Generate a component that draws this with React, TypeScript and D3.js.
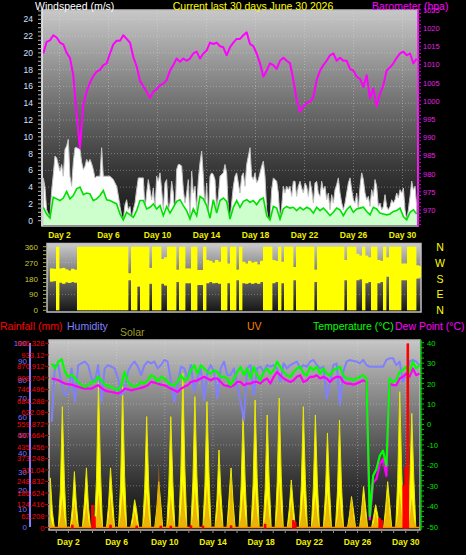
import * as d3 from 'd3'

// ---------- tick labels ----------
const dayTicks = [2, 6, 10, 14, 18, 22, 26, 30]
const windTicks = [0, 2, 4, 6, 8, 10, 12, 14, 16, 18, 20, 22, 24]
const baroTicks = [970, 975, 980, 985, 990, 995, 1000, 1005, 1010, 1015, 1020, 1025]
const dirTicks = [0, 90, 180, 270, 360]
const compass = ['N', 'E', 'S', 'W', 'N']
const amountTicks = ['0', '62.208', '124.416', '186.624', '248.832', '311.04', '373.248', '435.456', '497.664', '559.872', '622.08', '684.288', '746.496', '808.704', '870.912', '933.12', '995.328']
const humTicks = [0, 10, 20, 30, 40, 50, 60, 70, 80, 90, 100]
const tempTicks = [-50, -40, -30, -20, -10, 0, 10, 20, 30, 40]

// ---------- top panel: wind + barometer ----------
const barometer = [
  1013, 1016.2, 1016.6, 1018, 1017.4, 1016, 1015.5, 1013.2, 1011.8, 1007,
  996, 987, 999, 1002.5, 1005, 1006.8, 1008, 1008.5, 1009.8, 1010.3,
  1013, 1015.5, 1016.5, 1016.5, 1018, 1017, 1016, 1012, 1009.5, 1005.5,
  1004, 1002.5, 1000.8, 1002.5, 1003.2, 1004.3, 1004.7, 1005.7, 1008.3, 1009.8,
  1011.6, 1010.7, 1011.6, 1011, 1011.6, 1013, 1013.5, 1011.6, 1013, 1013.8,
  1016, 1015.6, 1016, 1015, 1014.7, 1012.5, 1014.7, 1016, 1017, 1017,
  1018, 1018.8, 1015.6, 1015, 1013, 1010.3, 1006.6, 1008.3, 1010.3, 1009.8,
  1008.8, 1011, 1011.8, 1011, 1010.3, 1005.7, 1000.3, 997, 998.5, 999.4,
  999.8, 1001, 1005.7, 1008.3, 1009.8, 1011, 1012.5, 1013, 1011, 1011.8,
  1011, 1011, 1008.8, 1008.3, 1006.6, 1006, 1003.8, 1007, 1000.7, 1003.4,
  998.5, 1002, 1004.3, 1008.3, 1009.2, 1010.3, 1011.8, 1013, 1013.5, 1012.5,
  1013, 1010.3, 1011.6,
]

const windGust = [
  5.1, 4.0, 1.3, 0.8, 0.5, 3.5, 5.5, 7.7, 7.5, 6.7, 5.9, 6.7, 5.3, 8.5, 8.9, 9.7, 5.3, 4.1, 7.0, 8.7,
  8.7, 8.6, 8.5, 7.0, 6.1, 6.5, 7.3, 6.9, 7.3, 6.8, 6.1, 5.1, 5.3, 5.3, 5.3, 8.7, 5.3, 5.3, 5.3, 5.3,
  5.3, 5.1, 4.9, 4.5, 4.1, 3.0, 1.7, 0.6, 0, 1.9, 2.5, 1.3, 1.7, 0.1, 1.3, 2.1, 3.7, 5.1, 5.1, 5.1,
  5.1, 1.3, 3.3, 4.9, 3.7, 2.5, 3.9, 1.3, 5.3, 4.7, 5.7, 3.7, 1.3, 4.5, 4.9, 1.3, 2.1, 4.7, 3.3, 0.1,
  6.1, 6.7, 6.7, 6.5, 3.7, 2.1, 3.3, 4.9, 0.1, 5.9, 3.3, 4.1, 1.3, 4.9, 6.9, 8.3, 5.3, 1.3, 4.5, 0.1,
  5.3, 5.7, 5.5, 4.9, 1.3, 2.9, 5.3, 5.5, 5.7, 6.7, 5.7, 1.3, 0.1, 2.1, 4.1, 5.3, 5.7, 4.5, 3.3, 5.3,
  5.7, 4.1, 6.7, 7.7, 8.7, 5.3, 4.9, 5.7, 4.5, 4.9, 5.7, 6.5, 7.1, 5.3, 1.3, 0.1, 0.1, 3.7, 5.1, 4.9,
  4.7, 3.3, 0.1, 1.7, 4.1, 3.3, 4.1, 3.7, 4.1, 2.9, 4.7, 4.7, 2.9, 4.1, 4.7, 3.9, 3.3, 4.5, 4.1, 2.9,
  4.7, 3.7, 2.1, 4.5, 4.7, 3.3, 2.9, 4.7, 3.7, 4.1, 2.5, 3.3, 1.3, 3.1, 2.1, 3.7, 4.3, 5.1, 3.3, 2.1,
  1.3, 2.1, 3.3, 4.5, 5.1, 3.7, 2.5, 2.1, 3.3, 1.3, 4.1, 5.7, 4.9, 3.3, 2.5, 2.9, 1.7, 3.7, 2.9, 4.9,
  4.1, 1.7, 2.1, 1.3, 1.7, 3.1, 1.7, 1.3, 1.7, 2.5, 2.1, 2.5, 3.3, 2.7, 3.7, 3.3, 3.9, 1.3, 0.1, 1.3,
  2.9, 4.7, 3.7, 4.1, 1.7,
]

const windAvg = [
  1.6, 0.8, 0.3, 2.8, 2.6, 2.4, 2.7, 3.5, 2.6, 3.0, 3.8, 4.0, 3.1, 3.3, 3.2, 2.4, 2.6, 3.0, 3.6, 2.5,
  2.4, 2.2, 2.0, 0.8, 0.1, 1.0, 0.7, 0.4, 1.2, 2.4, 2.4, 1.4, 1.6, 2.0, 1.4, 1.8, 0.6, 1.7, 0.9, 1.6,
  2.3, 2.5, 1.8, 1.2, 0.2, 1.4, 0.6, 2.9, 2.6, 1.8, 0.3, 2.5, 0.9, 2.4, 2.7, 2.3, 0.2, 1.6, 2.4, 1.6,
  2.3, 2.5, 2.2, 2.4, 1.9, 2.5, 2.7, 0.6, 0.1, 1.7, 1.5, 0.2, 1.4, 1.7, 1.5, 1.6, 1.2, 1.6, 1.3, 1.6,
  1.4, 0.9, 1.6, 1.2, 1.5, 1.1, 0.6, 1.0, 1.5, 1.3, 0.6, 1.3, 1.7, 1.0, 1.4, 1.5, 1.6, 1.1, 0.7, 1.6,
  1.4, 0.9, 0.8, 0.7, 0.8, 1.1, 1.2, 1.5, 0.5, 0.1, 1.0, 1.3, 0.8,
]

// ---------- middle panel: wind direction (range per 6h slot) ----------
const dirLow = [
  162, 165, 0, 156, 150, 158, 155, 160, 156, 0,
  0, 0, 0, 0, 0, 0, 0, 0, 0, 0,
  0, 0, 0, 0, 0, 0, 170, 0, 0, 134,
  0, 0, 0, 150, 0, 0, 0, 150, 140, 0,
  0, 0, 160, 0, 0, 153, 153, 0, 0, 143,
  143, 0, 153, 160, 153, 155, 150, 0, 0, 153,
  0, 0, 170, 0, 153, 150, 155, 150, 155, 150,
  160, 0, 0, 0, 153, 160, 0, 153, 0, 0,
  0, 170, 0, 0, 0, 0, 0, 0, 160, 0,
  0, 0, 0, 0, 0, 0, 0, 0, 170, 0,
  0, 0, 170, 175, 0, 153, 160, 0, 0, 153,
  160, 0, 190, 0, 0, 0, 0, 170, 170, 0,
  0, 0, 180, 185,
]
const dirHigh = [
  237, 235, 360, 237, 240, 232, 225, 235, 230, 360,
  360, 360, 360, 360, 360, 360, 360, 360, 360, 360,
  360, 360, 360, 360, 360, 360, 210, 360, 360, 360,
  360, 360, 360, 240, 360, 360, 360, 290, 300, 360,
  360, 360, 230, 360, 360, 237, 237, 360, 360, 228,
  228, 360, 285, 280, 270, 285, 275, 360, 360, 265,
  360, 360, 230, 360, 275, 265, 280, 270, 275, 260,
  280, 360, 360, 360, 285, 280, 360, 275, 360, 360,
  360, 245, 360, 360, 360, 360, 360, 360, 230, 360,
  360, 360, 360, 360, 360, 360, 360, 360, 285, 360,
  360, 360, 320, 310, 360, 310, 300, 360, 360, 285,
  280, 360, 300, 360, 360, 360, 360, 265, 265, 360,
  360, 360, 255, 250,
]

// ---------- bottom panel ----------
const humidity = [
  57.2, 88.0, 88.0, 77.2, 71.7, 73.6, 86.2, 68.1, 88.0, 88.9, 89.9, 88.0, 80.8, 79.0, 88.0, 68.1, 86.2, 88.0,
  87.1, 86.2, 80.8, 71.7, 73.6, 84.4, 88.0, 89.9, 87.1, 82.6, 88.0, 89.9, 88.9, 89.9, 86.2, 88.0, 90.8, 89.9,
  79.0, 68.1, 77.2, 87.1, 86.2, 80.8, 88.0, 73.6, 80.8, 86.2, 69.0, 84.4, 88.0, 84.4, 69.9, 86.2, 89.9, 82.6,
  82.6, 86.2, 77.2, 68.1, 58.0, 86.2, 88.0, 71.7, 86.2, 87.1, 84.4, 88.0, 87.1, 88.0, 86.2, 79.0, 88.9, 86.2,
  88.0, 88.9, 89.9, 86.2, 88.0, 87.1, 89.9, 90.8, 88.0, 86.2, 87.1, 69.9, 79.0, 88.0, 88.9, 66.3, 84.4, 89.9,
  90.8, 90.2, 89.9, 88.9, 90.8, 88.0, 87.1, 87.1, 87.1, 87.1, 87.1, 90.8, 91.7, 91.7, 88.0, 89.9, 79.0, 82.6,
  89.9, 90.8, 89.9, 88.0,
]
const temperature = [
  29.8, 27.4, 30.7, 32.0, 25.7, 23.3, 24.4, 22.8, 20.8, 19.2, 18.4, 19.2, 20.8, 20.8, 23.3, 21.6, 19.5, 18.9,
  18.4, 17.5, 16.7, 19.2, 25.7, 20.8, 19.2, 18.4, 19.2, 20.8, 20.0, 21.6, 24.1, 23.3, 20.8, 23.3, 22.5, 20.8,
  19.5, 19.2, 20.8, 24.1, 21.6, 22.5, 26.6, 29.0, 24.9, 29.0, 27.4, 25.7, 24.9, 26.6, 25.7, 23.3, 23.3, 22.5,
  19.2, 22.5, 25.7, 28.2, 24.1, 27.4, 22.5, 28.2, 24.1, 21.6, 25.7, 27.4, 24.9, 26.6, 30.7, 28.2, 25.7, 24.1,
  23.3, 25.7, 27.4, 28.2, 24.9, 24.1, 28.2, 26.6, 28.2, 24.9, 27.4, 24.9, 24.1, 26.6, 27.4, 28.2, 24.1, 22.5,
  22.5, 21.6, 22.5, 23.3, 24.1, 22.5, -44.8, -25.1, -21.8, -15.3, -12.8, -20.2, 22.5, 20.8, 21.6, 25.7, 26.6, 28.2,
  25.7, 30.7, 27.4, 29.0,
]
const dewPoint = [
  22.5, 22.1, 21.6, 20.8, 20.0, 19.7, 19.5, 18.9, 18.4, 17.9, 17.5, 17.5, 17.5, 18.4, 19.2, 17.9, 16.7, 16.2,
  15.9, 15.6, 15.1, 15.9, 17.5, 17.2, 16.7, 17.1, 17.5, 17.9, 18.4, 19.2, 20.8, 20.5, 20.0, 19.5, 19.2, 18.4,
  17.5, 16.7, 15.9, 17.5, 18.4, 19.2, 20.8, 21.2, 21.6, 22.5, 23.3, 22.5, 21.6, 22.5, 22.5, 20.8, 19.2, 18.9,
  18.4, 19.2, 20.8, 20.8, 19.2, 20.0, 20.0, 20.8, 20.8, 20.0, 21.6, 22.5, 20.0, 23.3, 25.7, 24.1, 22.5, 21.6,
  20.8, 21.6, 23.3, 24.1, 20.8, 21.6, 23.3, 23.3, 24.1, 22.5, 23.3, 22.5, 20.8, 22.5, 23.3, 23.3, 20.8, 20.0,
  20.0, 19.5, 20.0, 20.8, 21.6, 20.8, -46.4, -28.4, -26.7, -19.4, -16.9, -25.1, 20.0, 19.2, 19.2, 22.5, 23.3, 24.9,
  23.3, 27.4, 24.1, 24.9,
]

// solar: afternoon of day 0, then per day [morning, noon, afternoon]
const solarFirst = [268, 90, 0]
const solarDays = [
  [200, 653, 260], [110, 302, 120], [140, 322, 110], [260, 788, 300], [120, 322, 150],
  [240, 761, 280], [60, 150, 90], [210, 599, 230], [100, 248, 130], [220, 599, 250],
  [300, 833, 320], [250, 707, 280], [230, 680, 300], [150, 419, 180], [160, 322, 140],
  [220, 619, 260], [240, 689, 270], [210, 608, 250], [250, 700, 280], [100, 257, 120],
  [230, 653, 260], [220, 608, 240], [180, 511, 220], [200, 581, 230], [70, 167, 90],
  [90, 221, 110], [60, 123, 70], [110, 248, 130], [260, 734, 300], [230, 617, 270],
]
const uvFirst = [1.0, 0.3, 0]
const uvDays = [
  [0.8, 2.6, 0.9], [0.6, 2.3, 0.7], [0.8, 2.3, 0.6], [1.0, 3.1, 1.1], [0.8, 2.8, 0.9],
  [1.0, 3.1, 1.2], [0.4, 1.4, 0.5], [1.0, 3.1, 1.1], [1.5, 5.7, 1.8], [0.9, 2.8, 1.0],
  [1.3, 4.0, 1.4], [1.1, 3.4, 1.2], [1.2, 3.7, 1.3], [1.0, 3.1, 1.1], [1.4, 4.6, 1.5],
  [1.0, 3.1, 1.1], [1.1, 3.4, 1.2], [0.9, 2.8, 1.0], [1.3, 4.0, 1.4], [0.7, 2.3, 0.8],
  [1.0, 3.1, 1.1], [0.9, 2.8, 1.0], [1.0, 3.1, 1.1], [0.9, 2.8, 1.0], [0.8, 2.6, 0.9],
  [0.9, 2.8, 1.0], [0.4, 1.4, 0.5], [1.0, 3.1, 1.1], [1.0, 3.1, 1.2], [0.8, 2.6, 0.9],
]
const rainDay = [2.33, 4.0, 4.17, 5.5, 7.67, 9.67, 10.5, 12.17, 13.17, 15.5, 18.33, 20.67, 20.83, 27.83, 28.0, 29.83, 30.0, 30.17]
const rainAmount = [15, 122, 60, 15, 10, 10, 10, 12, 10, 12, 20, 40, 30, 52, 40, 230, 330, 995]

const FONT = "'Liberation Sans', Arial, sans-serif"

export default function App() {
  const top = { l: 42, r: 418, t: 10, b: 226 }
  const mid = { l: 47, r: 421, t: 243.5, b: 312 }
  const bot = { l: 49, r: 420, t: 340, b: 530 }

  // top scales
  const windY = d3.scaleLinear().domain([0, 24]).range([220.7, 19.3])
  const baroY = d3.scaleLinear().domain([970, 1020]).range([210, 28])
  const baroX = d3.scaleLinear().domain([0, barometer.length - 1]).range([43.3, 416.7])
  const gustX = d3.scaleLinear().domain([0, windGust.length - 1]).range([43.3, 416.7])
  const avgX = d3.scaleLinear().domain([0, windAvg.length - 1]).range([43.3, 416.7])
  const topDayX = d3.scaleLinear().domain([2, 30]).range([59.5, 402.5])

  // middle scales
  const dirY = d3.scaleLinear().domain([0, 360]).range([310.3, 246.7])
  const dirX = d3.scaleLinear().domain([0, dirLow.length]).range([50, 422])

  // bottom scales
  const botX = d3.scaleLinear().domain([0.5, 31]).range([50.3, 417.8])
  const lineX = d3.scaleLinear().domain([0, humidity.length - 1]).range([51.7, 419.5])
  const amountY = d3.scaleLinear().domain([0, 995.328]).range([527.5, 343.3])
  const humY = d3.scaleLinear().domain([0, 100]).range([527, 343])
  const tempY = d3.scaleLinear().domain([-50, 40]).range([526.7, 342.7])
  const uvY = d3.scaleLinear().domain([0, 16]).range([527.5, 343.3])

  const solar = [...solarFirst, ...solarDays.flatMap(([a, p, b]) => [0, 0, a, p, b, 0]), 0]
  const uv = [...uvFirst, ...uvDays.flatMap(([a, p, b]) => [0, 0, a, p, b, 0]), 0]
  const solarT = (i: number) => 0.5 + i / 6

  const gustArea = d3.area<number>().x((_, i) => gustX(i)).y0(top.b - 1).y1(d => windY(d))
  const gustLine = d3.line<number>().x((_, i) => gustX(i)).y(d => windY(d))
  const avgArea = d3.area<number>().x((_, i) => avgX(i)).y0(top.b - 1).y1(d => windY(d))
  const avgLine = d3.line<number>().x((_, i) => avgX(i)).y(d => windY(d))
  const baroLine = d3.line<number>().x((_, i) => baroX(i)).y(d => baroY(d))

  const solarArea = d3.area<number>().x((_, i) => botX(solarT(i))).y0(amountY(0)).y1(d => amountY(d))
  const uvArea = d3.area<number>().x((_, i) => botX(solarT(i))).y0(uvY(0)).y1(d => uvY(d))
  const humLine = d3.line<number>().x((_, i) => lineX(i)).y(d => humY(d))
  const tempLine = d3.line<number>().x((_, i) => lineX(i)).y(d => tempY(d))

  const grid = { stroke: '#e6e6e6', strokeOpacity: 0.35, strokeDasharray: '1 2', strokeWidth: 1 }

  return (
    <svg width={466} height={555} style={{ position: 'absolute', left: 0, top: 0, fontFamily: FONT }}>
      <defs>
        <linearGradient id="gTop" x1="0" y1="0" x2="0" y2="1">
          <stop offset="0" stopColor="#c8c8c8" />
          <stop offset="0.42" stopColor="#737373" />
          <stop offset="0.72" stopColor="#3a3a3a" />
          <stop offset="1" stopColor="#141414" />
        </linearGradient>
        <linearGradient id="gMid" x1="0" y1="0" x2="0" y2="1">
          <stop offset="0" stopColor="#cccccc" />
          <stop offset="0.5" stopColor="#6c6c6c" />
          <stop offset="1" stopColor="#141414" />
        </linearGradient>
        <linearGradient id="gBot" x1="0" y1="0" x2="0" y2="1">
          <stop offset="0" stopColor="#c6c6c6" />
          <stop offset="0.45" stopColor="#6a6a6a" />
          <stop offset="0.75" stopColor="#323232" />
          <stop offset="1" stopColor="#0c0c0c" />
        </linearGradient>
        <clipPath id="cTop"><rect x={top.l} y={top.t} width={top.r - top.l} height={top.b - top.t} /></clipPath>
        <clipPath id="cMid"><rect x={mid.l} y={mid.t} width={mid.r - mid.l} height={mid.b - mid.t} /></clipPath>
        <clipPath id="cBot"><rect x={bot.l} y={bot.t} width={bot.r - bot.l} height={bot.b - bot.t} /></clipPath>
      </defs>
      <rect x={0} y={0} width={466} height={555} fill="#000" />

      {/* ================= TOP PANEL ================= */}
      <rect x={top.l} y={top.t} width={top.r - top.l} height={top.b - top.t} fill="url(#gTop)" stroke="#bdbdbd" strokeWidth={1.5} />
      {windTicks.slice(1).map(t => (
        <line key={'wg' + t} x1={top.l} x2={top.r} y1={windY(t)} y2={windY(t)} {...grid} />
      ))}
      {dayTicks.map(d => (
        <line key={'dg' + d} x1={topDayX(d)} x2={topDayX(d)} y1={top.t} y2={top.b} {...grid} />
      ))}
      <g clipPath="url(#cTop)">
        <path d={gustArea(windGust) ?? ''} fill="#ffffff" />
        <path d={gustLine(windGust) ?? ''} fill="none" stroke="#c4c4c4" strokeWidth={1} />
        <path d={avgArea(windAvg) ?? ''} fill="#ccffcc" />
        <path d={avgLine(windAvg) ?? ''} fill="none" stroke="#00e000" strokeWidth={1.6} />
        <path d={baroLine(barometer) ?? ''} fill="none" stroke="#ff00ff" strokeWidth={2} strokeLinejoin="round" />
      </g>
      {/* left axis */}
      <line x1={top.l} x2={top.l} y1={top.t} y2={top.b} stroke="#e8e8e8" strokeWidth={1.5} />
      {d3.range(0, 25.5, 0.5).map(v => (
        <line key={'wt' + v} x1={top.l - 4} x2={top.l} y1={windY(v)} y2={windY(v)} stroke="#b8b8b8" strokeWidth={1} />
      ))}
      {windTicks.map(t => (
        <text key={'wl' + t} x={33} y={windY(t) + 3} fontSize={8.5} fill="#d8e2ff" textAnchor="end">{t}</text>
      ))}
      {/* right axis */}
      <line x1={top.r} x2={top.r} y1={top.t} y2={top.b} stroke="#ff00ff" strokeWidth={1.5} />
      {d3.range(966, 1026, 1).map(v => (
        <line key={'bt' + v} x1={top.r} x2={top.r + 3} y1={baroY(v)} y2={baroY(v)} stroke="#d000d0" strokeWidth={1} />
      ))}
      {baroTicks.map(t => (
        <text key={'bl' + t} x={423} y={baroY(t) + 3} fontSize={7.5} fill="#e020e0">{t}</text>
      ))}
      {dayTicks.map(d => (
        <text key={'dl' + d} x={topDayX(d)} y={238} fontSize={8.5} fontWeight="bold" fill="#f0f000" textAnchor="middle">{'Day ' + d}</text>
      ))}
      <text x={35} y={9.5} fontSize={10.5} fill="#ffffff">Windspeed (m/s)</text>
      <text x={253} y={9.5} fontSize={10.5} fill="#ffff00" textAnchor="middle">Current last 30 days June 30 2026</text>
      <text x={372} y={9.5} fontSize={10.5} fill="#ff00ff">Barometer (hpa)</text>

      {/* ================= MIDDLE PANEL ================= */}
      <rect x={mid.l} y={mid.t} width={mid.r - mid.l} height={mid.b - mid.t} fill="url(#gMid)" stroke="#c0c0c0" strokeWidth={1.5} />
      {dirTicks.slice(1, 4).map(t => (
        <line key={'hg' + t} x1={mid.l} x2={mid.r} y1={dirY(t)} y2={dirY(t)} {...grid} />
      ))}
      <g clipPath="url(#cMid)">
        {dirLow.map((lo, k) => (
          <rect key={'dr' + k} x={dirX(k)} width={dirX(k + 1) - dirX(k) + 0.4} y={dirY(dirHigh[k])} height={dirY(lo) - dirY(dirHigh[k])} fill="#ffff00" />
        ))}
      </g>
      {d3.range(0, 361, 22.5).map(v => (
        <line key={'dt' + v} x1={mid.l - 4} x2={mid.l - 1} y1={dirY(v)} y2={dirY(v)} stroke="#a8a830" strokeWidth={1} />
      ))}
      {dirTicks.map(t => (
        <text key={'dil' + t} x={38} y={dirY(t) + 3} fontSize={8} fill="#c8c83a" textAnchor="end">{t}</text>
      ))}
      {dirTicks.map((t, i) => (
        <text key={'cp' + t} x={440} y={dirY(t) + 4} fontSize={10.5} fill="#ffff00" textAnchor="middle">{compass[i]}</text>
      ))}

      {/* ================= BOTTOM PANEL ================= */}
      <text x={0} y={330} fontSize={10.5} fill="#ff0000">Rainfall (mm)</text>
      <text x={67} y={330} fontSize={10.5} fill="#8080ff">Humidity</text>
      <text x={120} y={336} fontSize={10.5} fill="#9c9c28">Solar</text>
      <text x={247} y={330} fontSize={10.5} fill="#ff8000">UV</text>
      <text x={313} y={330} fontSize={10.5} fill="#00ff00">Temperature (°C)</text>
      <text x={395} y={330} fontSize={10.5} fill="#ff00ff">Dew Point (°C)</text>

      <rect x={bot.l} y={bot.t} width={bot.r - bot.l} height={bot.b - bot.t} fill="url(#gBot)" stroke="#bdbdbd" strokeWidth={1.5} />
      {tempTicks.slice(1).map(t => (
        <line key={'tg' + t} x1={bot.l} x2={bot.r} y1={tempY(t)} y2={tempY(t)} {...grid} />
      ))}
      {dayTicks.map(d => (
        <line key={'bdg' + d} x1={botX(d)} x2={botX(d)} y1={bot.t} y2={bot.b} {...grid} />
      ))}
      <g clipPath="url(#cBot)">
        <path d={solarArea(solar) ?? ''} fill="#ffff00" stroke="#e8e800" strokeWidth={1} />
        <path d={uvArea(uv) ?? ''} fill="#d8760c" fillOpacity={0.55} />
        <line x1={bot.l} x2={bot.r} y1={uvY(0)} y2={uvY(0)} stroke="#ff8c00" strokeWidth={1.5} />
        <path d={humLine(humidity) ?? ''} fill="none" stroke="#8080ff" strokeWidth={2} strokeLinejoin="round" />
        <path d={tempLine(dewPoint) ?? ''} fill="none" stroke="#ff00ff" strokeWidth={2.2} strokeLinejoin="round" />
        <path d={tempLine(temperature) ?? ''} fill="none" stroke="#00ff00" strokeWidth={2.2} strokeLinejoin="round" />
        {rainDay.map((d, i) => (
          <rect key={'rn' + i} x={botX(d) - 1.3} width={2.6} y={amountY(rainAmount[i])} height={amountY(0) - amountY(rainAmount[i]) + 1} fill="#ff0000" />
        ))}
      </g>
      {/* humidity axis */}
      <line x1={30} x2={30} y1={humY(100)} y2={humY(0)} stroke="#8080ff" strokeWidth={2} />
      {humTicks.map(t => (
        <text key={'hl' + t} x={27} y={humY(t) + 3} fontSize={8} fill="#7070ff" textAnchor="end">{t}</text>
      ))}
      {/* rain / solar axis */}
      {amountTicks.map(t => (
        <line key={'at' + t} x1={45} x2={bot.l} y1={amountY(+t)} y2={amountY(+t)} stroke="#b00000" strokeWidth={1} />
      ))}
      {amountTicks.map(t => (
        <text key={'al' + t} x={44.5} y={amountY(+t) + 3} fontSize={7.6} fill="#ff0000" textAnchor="end">{t}</text>
      ))}
      {/* temperature axis */}
      <line x1={bot.r + 1} x2={bot.r + 1} y1={bot.t} y2={bot.b} stroke="#00c000" strokeWidth={1.5} />
      {d3.range(-50, 41, 2.5).map(v => (
        <line key={'tt' + v} x1={bot.r + 1} x2={bot.r + 4} y1={tempY(v)} y2={tempY(v)} stroke="#00c000" strokeWidth={1} />
      ))}
      {tempTicks.map(t => (
        <text key={'tl' + t} x={427} y={tempY(t) + 3} fontSize={7.6} fill="#00e000">{t}</text>
      ))}
      {d3.range(1, 32).map(d => (
        <line key={'xt' + d} x1={botX(d)} x2={botX(d)} y1={bot.b} y2={bot.b + 3} stroke="#909090" strokeWidth={1} />
      ))}
      {dayTicks.map(d => (
        <text key={'bdl' + d} x={botX(d)} y={545} fontSize={8.5} fontWeight="bold" fill="#f0f000" textAnchor="middle">{'Day ' + d}</text>
      ))}
    </svg>
  )
}
